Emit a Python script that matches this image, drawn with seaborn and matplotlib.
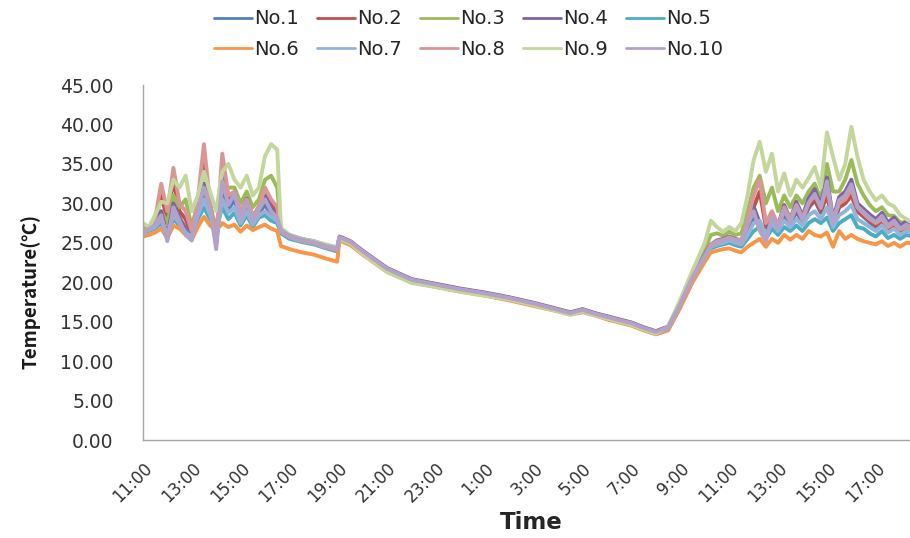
import numpy as np
import pandas as pd
import matplotlib
matplotlib.use('Agg')
import matplotlib.pyplot as plt
from matplotlib.font_manager import FontProperties
import seaborn as sns

# hours since 11:00 on day 1
hours = [0, .25, .5, .75, 1, 1.25, 1.5, 1.75, 2, 2.25, 2.5, 2.75, 3, 3.25, 3.5, 3.75,
         4, 4.25, 4.5, 4.75, 5, 5.25, 5.5,
         5.65, 6, 6.5, 7, 7.5, 7.95,
         8.05, 8.5, 9, 10, 11, 12, 13, 14, 15, 16, 17, 17.5, 18, 18.5, 19, 20, 20.5,
         21, 21.5, 22, 22.5, 23,
         23.25, 23.5, 23.75, 24, 24.25, 24.5, 24.75, 25, 25.25, 25.5, 25.75, 26,
         26.25, 26.5, 26.75, 27, 27.25, 27.5, 27.75, 28, 28.25, 28.5, 28.75, 29,
         29.25, 29.5, 29.75, 30, 30.25, 30.5, 30.75, 31, 31.25, 31.5]

no1 = [26.1, 26.6, 27.0, 28.0, 25.5, 29.0, 27.5, 26.3, 25.5, 28.8, 31.0, 29.0, 25.0, 31.8, 29.2, 30.5, 27.8, 29.6, 27.5, 28.8, 29.8, 28.6, 28.0,
       26.5, 25.8, 25.3, 25.0, 24.5, 24.2,
       25.6, 25.0, 23.8, 21.6, 20.2, 19.6, 19.0, 18.5, 17.9, 17.2, 16.4, 16.0, 16.4, 15.9, 15.5, 14.7, 14.1, 13.6, 14.2, 17.2, 20.6, 23.2,
       24.5, 24.9, 25.1, 25.4, 25.1, 24.9, 26.6, 28.2, 27.0, 25.6, 27.8, 26.5, 28.6, 27.2, 29.0, 27.5, 29.4, 30.4, 28.8, 31.5, 27.2, 29.6, 30.2, 31.4, 29.0, 28.3, 27.6, 27.0, 27.8, 26.8, 27.3, 26.4, 26.9, 26.5]
no2 = [26.3, 26.7, 27.6, 31.0, 28.0, 33.0, 29.0, 28.0, 26.0, 29.5, 35.5, 29.5, 25.0, 34.5, 30.5, 31.0, 28.5, 30.0, 28.0, 29.0, 31.0, 30.0, 29.0,
       26.4, 25.7, 25.2, 24.9, 24.4, 24.0,
       25.6, 25.0, 23.8, 21.6, 20.2, 19.6, 19.0, 18.5, 17.9, 17.2, 16.4, 16.0, 16.4, 15.9, 15.5, 14.7, 14.1, 13.6, 14.2, 17.0, 20.4, 23.0,
       24.6, 25.0, 25.2, 25.5, 25.2, 25.1, 27.0, 29.5, 31.5, 27.0, 28.5, 27.0, 29.0, 27.6, 29.2, 28.0, 29.6, 30.5, 29.0, 31.0, 27.5, 29.5, 30.0, 31.0, 29.0, 28.4, 27.8, 27.2, 27.8, 26.8, 27.3, 26.5, 26.9, 26.5]
no3 = [27.0, 26.6, 27.8, 29.0, 27.5, 31.0, 29.5, 30.5, 27.0, 30.0, 32.5, 30.0, 26.5, 32.5, 32.0, 32.0, 30.0, 31.5, 29.5, 30.5, 33.0, 33.5, 32.0,
       26.7, 25.9, 25.4, 25.0, 24.6, 24.2,
       25.6, 25.0, 23.7, 21.4, 20.0, 19.5, 18.9, 18.4, 17.9, 17.2, 16.4, 16.0, 16.4, 15.9, 15.5, 14.7, 14.1, 13.6, 14.3, 17.5, 21.0, 24.2,
       26.0, 26.2, 25.9, 26.4, 26.0, 26.2, 29.0, 32.0, 33.5, 30.0, 32.0, 29.0, 31.0, 29.5, 31.0, 30.0, 31.5, 32.5, 30.5, 35.0, 31.5, 31.5, 33.0, 35.5, 32.5, 31.0, 29.8, 29.0, 29.5, 28.5, 28.4, 27.6, 27.6, 27.2]
no4 = [26.3, 27.0, 27.5, 29.0, 25.8, 30.0, 28.2, 26.8, 25.8, 29.6, 32.5, 30.0, 24.8, 33.2, 30.3, 31.5, 28.5, 30.6, 28.2, 29.6, 31.0, 29.4, 28.6,
       26.7, 26.0, 25.5, 25.2, 24.7, 24.4,
       25.8, 25.2, 24.0, 21.8, 20.4, 19.8, 19.2, 18.7, 18.1, 17.4, 16.6, 16.2, 16.6, 16.1, 15.7, 14.9, 14.3, 13.8, 14.4, 17.4, 20.8, 23.5,
       24.8, 25.3, 25.5, 25.8, 25.5, 25.3, 27.6, 29.6, 27.5, 25.8, 28.8, 27.2, 29.8, 28.0, 30.2, 28.4, 30.6, 31.8, 29.8, 33.3, 28.0, 30.8, 31.5, 33.0, 30.0, 29.3, 28.6, 28.0, 28.8, 27.6, 28.2, 27.2, 27.7, 27.3]
no5 = [26.2, 26.5, 26.8, 27.5, 25.8, 28.0, 27.2, 26.5, 25.6, 28.0, 29.5, 28.0, 26.8, 29.5, 28.0, 28.8, 27.2, 28.5, 27.0, 28.2, 28.5, 27.8, 27.5,
       26.2, 25.5, 25.1, 24.8, 24.3, 23.9,
       25.5, 24.9, 23.7, 21.5, 20.1, 19.5, 18.9, 18.4, 17.8, 17.1, 16.4, 16.0, 16.3, 15.9, 15.4, 14.6, 14.0, 13.5, 14.0, 17.0, 20.3, 22.9,
       24.3, 24.6, 24.8, 25.0, 24.7, 24.5, 25.5, 26.5, 27.0, 25.5, 26.8, 26.0, 27.0, 26.5, 27.2, 26.5, 27.5, 28.0, 27.5, 28.2, 26.5, 27.5, 28.0, 28.5, 27.0, 26.8, 26.2, 25.8, 26.5, 25.6, 26.0, 25.5, 26.0, 25.8]
no6 = [25.8, 26.0, 26.3, 26.8, 25.6, 27.2, 26.8, 26.0, 25.4, 27.0, 28.3, 27.2, 26.5, 27.5, 27.0, 27.3, 26.4, 27.2, 26.6, 27.0, 27.3, 26.8, 26.5,
       24.6, 24.2, 23.8, 23.5, 23.0, 22.6,
       25.3, 24.7, 23.5, 21.3, 20.0, 19.4, 18.8, 18.3, 17.7, 17.0, 16.3, 15.9, 16.2, 15.8, 15.3, 14.5, 13.9, 13.4, 13.9, 16.8, 20.0, 22.6,
       23.8, 24.0, 24.2, 24.3, 24.0, 23.8, 24.5, 25.0, 25.5, 24.5, 25.5, 25.0, 26.0, 25.4, 26.0, 25.5, 26.5, 26.0, 25.8, 26.3, 24.5, 26.5, 25.5, 26.0, 25.5, 25.2, 25.0, 24.8, 25.2, 24.6, 25.0, 24.5, 25.0, 25.0]
no7 = [26.4, 26.6, 27.0, 28.0, 26.0, 28.5, 27.5, 26.2, 25.8, 28.5, 30.5, 28.6, 25.5, 30.5, 28.8, 29.5, 27.5, 29.0, 27.3, 28.5, 29.0, 28.3, 27.8,
       26.4, 25.7, 25.2, 24.9, 24.4, 24.1,
       25.6, 25.0, 23.8, 21.6, 20.2, 19.6, 19.0, 18.5, 17.9, 17.2, 16.4, 16.0, 16.4, 15.9, 15.5, 14.7, 14.1, 13.6, 14.1, 17.1, 20.5, 23.1,
       24.5, 24.8, 25.0, 25.3, 25.0, 24.8, 26.0, 27.5, 27.8, 26.0, 27.5, 26.5, 27.8, 27.0, 28.0, 27.2, 28.5, 29.0, 28.0, 29.5, 27.0, 28.5, 29.0, 29.8, 28.0, 27.5, 27.0, 26.5, 27.2, 26.3, 26.8, 26.0, 26.5, 26.2]
no8 = [26.5, 26.9, 28.0, 32.5, 29.0, 34.5, 30.0, 29.0, 26.5, 30.5, 37.5, 30.0, 25.5, 36.3, 31.0, 31.5, 29.0, 30.5, 28.5, 29.5, 32.0, 30.5, 29.5,
       26.5, 25.8, 25.3, 25.0, 24.5, 24.1,
       25.7, 25.1, 23.9, 21.7, 20.3, 19.7, 19.1, 18.6, 18.0, 17.3, 16.5, 16.1, 16.5, 16.0, 15.6, 14.8, 14.2, 13.7, 14.2, 17.1, 20.6, 23.2,
       24.8, 25.2, 25.4, 25.7, 25.4, 25.3, 27.8, 31.0, 33.0, 27.5, 29.0, 27.2, 29.5, 28.0, 29.8, 28.2, 30.0, 31.0, 29.6, 32.0, 28.0, 30.0, 30.5, 31.8, 29.5, 28.7, 28.0, 27.5, 28.0, 27.0, 27.5, 26.7, 27.0, 26.6]
no9 = [27.5, 27.0, 28.5, 30.2, 30.0, 33.0, 32.0, 33.5, 29.0, 31.0, 34.0, 31.5, 29.0, 34.0, 35.0, 33.0, 32.0, 33.5, 31.0, 32.0, 36.0, 37.5, 36.8,
       26.9, 26.0, 25.5, 25.2, 24.8, 24.4,
       25.5, 24.9, 23.6, 21.3, 19.9, 19.4, 18.8, 18.3, 17.8, 17.1, 16.3, 15.9, 16.3, 15.8, 15.4, 14.6, 14.0, 13.5, 14.4, 17.8, 21.5, 25.0,
       27.8, 27.0, 26.4, 27.0, 26.5, 27.5, 31.0, 35.5, 37.8, 34.0, 36.3, 31.5, 33.8, 31.0, 33.0, 32.0, 33.2, 34.6, 32.0, 39.0, 35.9, 33.0, 35.0, 39.7, 35.9, 33.0, 31.5, 30.4, 31.0, 30.0, 29.6, 28.5, 28.0, 27.5]
no10 = [26.0, 26.8, 27.2, 28.5, 25.2, 29.5, 27.8, 26.0, 25.3, 29.2, 32.0, 29.5, 24.2, 32.8, 29.8, 31.2, 28.0, 30.2, 27.8, 29.2, 30.5, 29.0, 28.2,
        26.6, 25.9, 25.4, 25.1, 24.6, 24.3,
        25.7, 25.1, 23.9, 21.7, 20.3, 19.7, 19.1, 18.6, 18.0, 17.3, 16.5, 16.1, 16.5, 16.0, 15.6, 14.8, 14.2, 13.7, 14.3, 17.3, 20.7, 23.4,
        24.6, 25.1, 25.3, 25.6, 25.3, 25.1, 27.2, 29.0, 26.5, 25.2, 28.3, 26.8, 29.2, 27.6, 29.6, 27.9, 30.1, 31.2, 29.4, 32.8, 27.6, 30.4, 31.0, 32.4, 29.6, 28.9, 28.2, 27.6, 28.4, 27.2, 27.8, 26.8, 27.3, 26.9]

names = ['No.1', 'No.2', 'No.3', 'No.4', 'No.5', 'No.6', 'No.7', 'No.8', 'No.9', 'No.10']
series = [no1, no2, no3, no4, no5, no6, no7, no8, no9, no10]
colors = ['#4F81BD', '#C0504D', '#9BBB59', '#8064A2', '#4BACC6',
          '#F79646', '#95B3D7', '#D99694', '#C3D69B', '#B3A2C7']

tick_pos = [0, 2, 4, 6, 8, 10, 12, 14, 16, 18, 20, 22, 24, 26, 28, 30]
tick_labels = ['11:00', '13:00', '15:00', '17:00', '19:00', '21:00', '23:00', '1:00',
               '3:00', '5:00', '7:00', '9:00', '11:00', '13:00', '15:00', '17:00']

frames = []
for n, s in zip(names, series):
    frames.append(pd.DataFrame({'hour': hours, 'temp': s, 'sensor': n}))
df = pd.concat(frames, ignore_index=True)

sns.set_style('white')
plt.rcParams['font.family'] = ['DejaVu Sans', 'Noto Sans CJK KR']

fig = plt.figure(figsize=(9.1, 5.38), dpi=100)
ax = fig.add_axes([0.157, 0.182, 0.843, 0.660])

sns.lineplot(data=df, x='hour', y='temp', hue='sensor', hue_order=names,
             palette=colors, linewidth=2.8, estimator=None, sort=False, ax=ax)

ax.set_xlim(0, 31.4)
ax.set_ylim(0, 45)
ax.set_yticks(np.arange(0, 46, 5))
ax.set_yticklabels(['%.2f' % v for v in np.arange(0, 46, 5)], fontsize=13.5, color='#333333')
ax.set_xticks(tick_pos)
ax.set_xticklabels(tick_labels, rotation=45, ha='right', rotation_mode='anchor',
                   fontsize=12, color='#333333')
ax.tick_params(axis='y', direction='out', length=5, width=1, color='#a6a6a6', pad=16)
ax.tick_params(axis='x', direction='out', length=5, width=1, color='#a6a6a6', pad=9)

for side in ['top', 'right']:
    ax.spines[side].set_visible(False)
for side in ['left', 'bottom']:
    ax.spines[side].set_color('#a6a6a6')
    ax.spines[side].set_linewidth(1)

ax.set_xlabel('Time', fontsize=16.5, fontweight='bold')
ax.xaxis.set_label_coords(0.506, -0.20)
ylab_font = FontProperties(family=['Noto Sans CJK KR', 'DejaVu Sans'], weight='bold', size=13.5)
ax.set_ylabel('Temperature(℃)', fontproperties=ylab_font, color='#1a1a1a')
ax.yaxis.set_label_coords(-0.133, 0.42)

handles, labels = ax.get_legend_handles_labels()
ax.get_legend().remove()
order = [0, 5, 1, 6, 2, 7, 3, 8, 4, 9]
leg = fig.legend([handles[i] for i in order], [labels[i] for i in order],
                 loc='upper left', bbox_to_anchor=(0.216, 1.015), ncol=5,
                 frameon=False, fontsize=14, handlelength=1.95,
                 handletextpad=0.1, columnspacing=0.95, labelspacing=0.6)
for line in leg.get_lines():
    line.set_linewidth(2)

fig.savefig('out.png', dpi=100)
